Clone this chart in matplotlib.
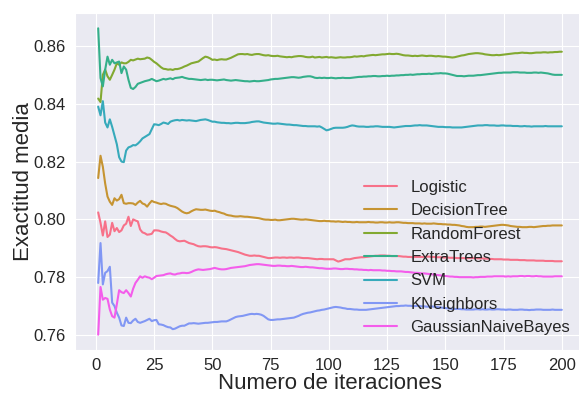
import matplotlib
matplotlib.use('Agg')
import matplotlib.pyplot as plt
import numpy as np
import seaborn as sns

# mean accuracy per iteration, in units of 1e-4
iterations = np.arange(1, 201)

logistic = [
    8024, 7988, 7944, 7993, 7939, 7947, 7988, 7959, 7970, 7956, 7962, 7979, 7985, 8009, 7977, 8000, 7996, 7993, 7965, 7955,
    7952, 7947, 7948, 7950, 7962, 7962, 7961, 7958, 7956, 7955, 7950, 7944, 7939, 7932, 7926, 7924, 7925, 7926, 7922, 7918,
    7916, 7914, 7910, 7907, 7906, 7907, 7907, 7906, 7904, 7903, 7904, 7903, 7901, 7899, 7898, 7897, 7895, 7893, 7891, 7889,
    7887, 7884, 7881, 7878, 7876, 7874, 7874, 7875, 7874, 7874, 7872, 7870, 7868, 7866, 7866, 7867, 7868, 7868, 7867, 7868,
    7868, 7867, 7868, 7868, 7867, 7868, 7868, 7867, 7866, 7866, 7866, 7865, 7864, 7863, 7862, 7863, 7863, 7862, 7862, 7862,
    7862, 7862, 7858, 7854, 7856, 7859, 7862, 7862, 7862, 7864, 7866, 7867, 7868, 7869, 7869, 7870, 7871, 7872, 7873, 7874,
    7874, 7875, 7875, 7875, 7874, 7874, 7873, 7873, 7873, 7873, 7872, 7871, 7871, 7870, 7870, 7869, 7870, 7870, 7870, 7870,
    7870, 7871, 7871, 7870, 7870, 7869, 7869, 7869, 7868, 7868, 7868, 7867, 7867, 7867, 7866, 7866, 7866, 7866, 7865, 7866,
    7866, 7866, 7866, 7865, 7865, 7865, 7864, 7864, 7863, 7863, 7862, 7862, 7862, 7862, 7861, 7861, 7861, 7860, 7860, 7860,
    7860, 7859, 7859, 7859, 7858, 7858, 7858, 7858, 7857, 7857, 7857, 7857, 7856, 7856, 7856, 7856, 7855, 7855, 7855, 7855]

decision_tree = [
    8143, 8220, 8182, 8124, 8079, 8061, 8050, 8073, 8065, 8070, 8085, 8056, 8054, 8056, 8056, 8055, 8050, 8058, 8064, 8055,
    8052, 8044, 8055, 8064, 8060, 8058, 8055, 8053, 8055, 8054, 8050, 8047, 8045, 8043, 8039, 8033, 8027, 8023, 8021, 8023,
    8028, 8032, 8035, 8034, 8033, 8033, 8034, 8032, 8030, 8029, 8030, 8027, 8025, 8022, 8020, 8016, 8014, 8013, 8011, 8010,
    8010, 8011, 8010, 8009, 8009, 8008, 8007, 8006, 8005, 8004, 8002, 8000, 7999, 7999, 7998, 7998, 7999, 7997, 7997, 7998,
    7999, 8000, 8001, 8002, 8002, 8001, 8000, 7999, 7999, 8000, 7999, 7998, 7997, 7996, 7995, 7994, 7994, 7995, 7994, 7994,
    7993, 7993, 7992, 7993, 7992, 7991, 7992, 7991, 7991, 7990, 7990, 7991, 7990, 7990, 7990, 7990, 7991, 7990, 7990, 7989,
    7989, 7990, 7990, 7989, 7989, 7990, 7989, 7989, 7990, 7990, 7989, 7988, 7988, 7987, 7987, 7987, 7986, 7986, 7986, 7985,
    7986, 7985, 7985, 7985, 7986, 7985, 7984, 7984, 7983, 7983, 7982, 7982, 7981, 7981, 7980, 7979, 7977, 7976, 7974, 7973,
    7973, 7973, 7974, 7974, 7975, 7975, 7974, 7975, 7976, 7977, 7978, 7979, 7980, 7981, 7981, 7980, 7979, 7977, 7976, 7975,
    7974, 7974, 7973, 7973, 7973, 7974, 7974, 7973, 7974, 7975, 7976, 7977, 7977, 7978, 7978, 7979, 7979, 7979, 7979, 7979]

random_forest = [
    8418, 8406, 8500, 8518, 8495, 8483, 8500, 8518, 8540, 8535, 8543, 8540, 8540, 8545, 8552, 8550, 8553, 8556, 8554, 8555,
    8556, 8560, 8558, 8552, 8545, 8540, 8533, 8526, 8521, 8520, 8518, 8519, 8517, 8520, 8520, 8522, 8525, 8529, 8532, 8536,
    8540, 8542, 8544, 8546, 8552, 8558, 8563, 8561, 8557, 8552, 8553, 8551, 8553, 8554, 8553, 8553, 8556, 8559, 8563, 8567,
    8571, 8572, 8572, 8571, 8572, 8570, 8569, 8571, 8572, 8572, 8570, 8568, 8567, 8568, 8566, 8565, 8565, 8566, 8564, 8563,
    8562, 8561, 8562, 8561, 8563, 8564, 8565, 8565, 8564, 8562, 8561, 8561, 8563, 8560, 8561, 8562, 8560, 8561, 8562, 8560,
    8561, 8560, 8559, 8560, 8561, 8560, 8560, 8561, 8561, 8562, 8564, 8563, 8564, 8565, 8564, 8566, 8567, 8568, 8569, 8568,
    8569, 8570, 8571, 8571, 8572, 8573, 8572, 8572, 8573, 8572, 8570, 8568, 8567, 8567, 8566, 8565, 8566, 8565, 8566, 8567,
    8566, 8565, 8566, 8566, 8565, 8564, 8565, 8564, 8563, 8563, 8562, 8561, 8560, 8561, 8563, 8565, 8567, 8568, 8570, 8572,
    8573, 8574, 8575, 8575, 8574, 8573, 8571, 8570, 8569, 8568, 8568, 8569, 8568, 8569, 8570, 8571, 8572, 8573, 8574, 8575,
    8575, 8576, 8577, 8576, 8576, 8575, 8575, 8576, 8577, 8577, 8577, 8578, 8578, 8577, 8578, 8578, 8579, 8579, 8580, 8580]

extra_trees = [
    8661, 8489, 8460, 8518, 8563, 8535, 8552, 8540, 8543, 8546, 8506, 8529, 8518, 8483, 8455, 8451, 8458, 8469, 8472, 8475,
    8478, 8480, 8482, 8486, 8482, 8478, 8480, 8483, 8486, 8484, 8486, 8488, 8485, 8489, 8490, 8491, 8493, 8490, 8488, 8486,
    8486, 8485, 8484, 8483, 8482, 8483, 8484, 8482, 8483, 8483, 8482, 8481, 8482, 8483, 8484, 8482, 8481, 8480, 8481, 8482,
    8481, 8480, 8479, 8478, 8478, 8477, 8478, 8479, 8478, 8478, 8479, 8480, 8481, 8482, 8484, 8485, 8486, 8486, 8487, 8488,
    8489, 8490, 8491, 8492, 8492, 8491, 8490, 8491, 8493, 8494, 8495, 8495, 8493, 8490, 8489, 8490, 8489, 8490, 8489, 8489,
    8490, 8489, 8488, 8489, 8489, 8490, 8489, 8489, 8489, 8490, 8491, 8492, 8493, 8493, 8494, 8494, 8495, 8495, 8496, 8496,
    8495, 8495, 8496, 8496, 8497, 8496, 8497, 8497, 8498, 8498, 8499, 8499, 8500, 8500, 8501, 8500, 8501, 8502, 8502, 8503,
    8503, 8503, 8504, 8503, 8504, 8505, 8505, 8506, 8505, 8505, 8504, 8502, 8500, 8498, 8496, 8496, 8496, 8495, 8496, 8497,
    8497, 8497, 8498, 8499, 8499, 8500, 8501, 8502, 8503, 8504, 8505, 8506, 8507, 8507, 8508, 8508, 8508, 8508, 8509, 8509,
    8509, 8508, 8508, 8508, 8507, 8507, 8507, 8508, 8508, 8507, 8508, 8507, 8506, 8505, 8503, 8501, 8500, 8500, 8500, 8500]

svm = [
    8390, 8360, 8409, 8335, 8318, 8346, 8320, 8290, 8260, 8215, 8200, 8198, 8238, 8249, 8252, 8257, 8256, 8262, 8270, 8280,
    8285, 8290, 8295, 8312, 8329, 8328, 8326, 8330, 8335, 8333, 8330, 8338, 8341, 8343, 8344, 8342, 8344, 8343, 8342, 8343,
    8342, 8341, 8340, 8342, 8344, 8345, 8346, 8344, 8341, 8338, 8338, 8336, 8335, 8334, 8334, 8333, 8333, 8332, 8333, 8334,
    8334, 8333, 8333, 8333, 8334, 8335, 8337, 8338, 8339, 8339, 8337, 8335, 8334, 8333, 8332, 8331, 8331, 8332, 8331, 8330,
    8329, 8328, 8328, 8327, 8326, 8326, 8325, 8324, 8323, 8323, 8322, 8322, 8322, 8322, 8321, 8322, 8318, 8313, 8308, 8310,
    8313, 8316, 8317, 8317, 8317, 8317, 8318, 8320, 8323, 8325, 8324, 8322, 8321, 8321, 8321, 8320, 8320, 8321, 8321, 8322,
    8322, 8321, 8320, 8320, 8320, 8320, 8319, 8318, 8319, 8320, 8321, 8322, 8323, 8323, 8323, 8324, 8325, 8325, 8326, 8325,
    8325, 8325, 8324, 8323, 8322, 8321, 8320, 8320, 8320, 8319, 8319, 8319, 8318, 8318, 8318, 8318, 8318, 8319, 8320, 8321,
    8322, 8323, 8324, 8325, 8325, 8325, 8326, 8326, 8325, 8325, 8325, 8324, 8324, 8325, 8325, 8324, 8324, 8324, 8323, 8323,
    8323, 8322, 8322, 8323, 8322, 8322, 8321, 8322, 8322, 8322, 8322, 8322, 8323, 8322, 8322, 8322, 8322, 8322, 8322, 8322]

k_neighbors = [
    7780, 7918, 7775, 7815, 7821, 7836, 7712, 7700, 7677, 7660, 7633, 7631, 7660, 7642, 7641, 7650, 7656, 7645, 7642, 7645,
    7648, 7652, 7656, 7648, 7651, 7652, 7637, 7636, 7634, 7630, 7627, 7626, 7620, 7622, 7626, 7630, 7632, 7632, 7636, 7640,
    7640, 7641, 7640, 7639, 7640, 7641, 7642, 7642, 7643, 7644, 7645, 7645, 7646, 7647, 7647, 7647, 7650, 7654, 7658, 7662,
    7664, 7665, 7666, 7668, 7670, 7672, 7673, 7672, 7673, 7672, 7670, 7666, 7660, 7654, 7652, 7652, 7653, 7654, 7654, 7655,
    7656, 7657, 7658, 7659, 7660, 7663, 7666, 7670, 7673, 7675, 7677, 7678, 7680, 7682, 7684, 7685, 7687, 7688, 7690, 7692,
    7694, 7696, 7697, 7696, 7695, 7693, 7692, 7690, 7690, 7689, 7688, 7688, 7687, 7687, 7687, 7687, 7688, 7689, 7690, 7691,
    7692, 7693, 7694, 7695, 7696, 7697, 7698, 7699, 7700, 7700, 7701, 7701, 7702, 7701, 7701, 7700, 7700, 7701, 7700, 7699,
    7699, 7698, 7698, 7699, 7698, 7697, 7696, 7695, 7694, 7693, 7692, 7691, 7690, 7690, 7690, 7690, 7689, 7689, 7688, 7688,
    7688, 7688, 7689, 7689, 7688, 7689, 7688, 7688, 7689, 7688, 7688, 7689, 7689, 7688, 7688, 7687, 7688, 7688, 7687, 7687,
    7687, 7688, 7688, 7687, 7687, 7686, 7687, 7687, 7688, 7688, 7688, 7687, 7687, 7687, 7687, 7688, 7687, 7687, 7687, 7687]

gaussian_nb = [
    7601, 7766, 7722, 7728, 7725, 7688, 7665, 7660, 7706, 7755, 7748, 7745, 7755, 7745, 7733, 7760, 7780, 7791, 7803, 7798,
    7803, 7800, 7798, 7793, 7798, 7804, 7805, 7806, 7807, 7810, 7812, 7813, 7810, 7809, 7812, 7813, 7815, 7815, 7814, 7815,
    7818, 7822, 7825, 7827, 7826, 7825, 7826, 7827, 7828, 7830, 7832, 7830, 7828, 7827, 7827, 7828, 7830, 7832, 7833, 7834,
    7835, 7836, 7837, 7838, 7840, 7842, 7843, 7844, 7845, 7845, 7844, 7843, 7842, 7841, 7840, 7839, 7839, 7840, 7840, 7839,
    7839, 7838, 7838, 7839, 7838, 7837, 7836, 7835, 7835, 7836, 7835, 7834, 7834, 7833, 7832, 7831, 7831, 7830, 7829, 7829,
    7829, 7830, 7830, 7829, 7828, 7828, 7829, 7829, 7828, 7828, 7827, 7827, 7826, 7826, 7825, 7825, 7824, 7825, 7824, 7824,
    7824, 7824, 7823, 7823, 7822, 7822, 7821, 7821, 7820, 7820, 7820, 7819, 7818, 7818, 7817, 7816, 7815, 7815, 7814, 7813,
    7813, 7812, 7811, 7810, 7809, 7808, 7807, 7806, 7805, 7804, 7803, 7802, 7802, 7801, 7801, 7800, 7800, 7800, 7800, 7800,
    7800, 7799, 7800, 7800, 7801, 7801, 7801, 7802, 7802, 7802, 7803, 7803, 7803, 7803, 7803, 7802, 7803, 7802, 7803, 7803,
    7803, 7804, 7804, 7803, 7804, 7804, 7803, 7803, 7804, 7803, 7803, 7802, 7802, 7802, 7802, 7802, 7803, 7803, 7803, 7803]

model_names = ['Logistic', 'DecisionTree', 'RandomForest', 'ExtraTrees',
               'SVM', 'KNeighbors', 'GaussianNaiveBayes']
model_scores = [logistic, decision_tree, random_forest, extra_trees,
                svm, k_neighbors, gaussian_nb]

sns.set_style('darkgrid')
plt.rcParams['font.family'] = ['Liberation Sans', 'DejaVu Sans']

colors = sns.color_palette('husl', len(model_names))

fig = plt.figure(figsize=(5.79, 3.94), dpi=100)
ax = fig.add_axes([75 / 579, 44 / 394, 510 / 579, 337 / 394])

for name, scores, color in zip(model_names, model_scores, colors):
    ax.plot(iterations, np.array(scores) / 10000, label=name, color=color, linewidth=1.5)

ax.set_xlabel('Numero de iteraciones', fontsize=16, color='.15', labelpad=0)
ax.set_ylabel('Exactitud media', fontsize=16, color='.15', labelpad=-1)
ax.set_xticks([0, 25, 50, 75, 100, 125, 150, 175, 200])
ax.set_yticks([0.76, 0.78, 0.80, 0.82, 0.84, 0.86])
ax.yaxis.set_major_formatter(matplotlib.ticker.FormatStrFormatter('%.2f'))
ax.tick_params(labelsize=12, colors='.15')
ax.tick_params(axis='x', pad=2)

ax.legend(loc='lower right', fontsize=12, frameon=False)

fig.savefig('out.png', dpi=100)
